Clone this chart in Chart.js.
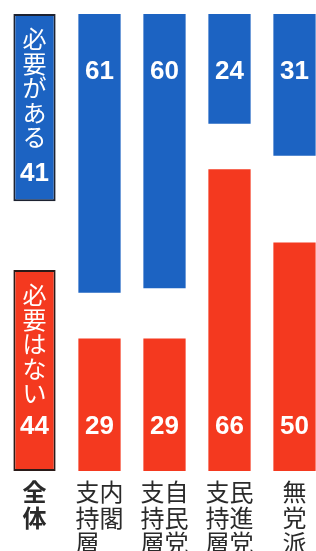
<!DOCTYPE html>
<html>
<head>
<meta charset="utf-8">
<script src="https://cdn.jsdelivr.net/npm/chart.js@4.4.0/dist/chart.umd.min.js"></script>
<style>
  html, body { margin: 0; padding: 0; background: #fff; overflow: hidden; }
  #wrap { width: 316px; height: 551px; overflow: hidden; position: relative; }
  canvas { position: absolute; left: 0; top: 0; }
</style>
</head>
<body>
<div id="wrap"><canvas id="chart" width="330" height="564"></canvas></div>
<script>
// categories, written as vertical columns (right column first)
const groups = [["全体"], ["内閣", "支持層"], ["自民党", "支持層"], ["民進党", "支持層"], ["無党派"]]
const needYes = [41, 61, 60, 24, 31]   // 必要がある
const needNo = [44, 29, 29, 66, 50]    // 必要はない
const seriesNames = ["必要がある", "必要はない"]
const total = 100

const blue = "#1c63c2"
const red = "#f4391f"

// vertical writing -> one row per character, columns read right to left
function toRows(cols) {
  const left = cols.slice().reverse()
  const n = Math.max(...cols.map(c => c.length))
  const rows = []
  for (let i = 0; i < n; i++) {
    rows.push(left.map(c => c[i] || "　").join(""))
  }
  return rows
}

const barText = {
  id: "barText",
  afterDatasetsDraw(chart) {
    const ctx = chart.ctx
    ctx.save()
    ctx.fillStyle = "#fff"
    ctx.textAlign = "center"
    ctx.textBaseline = "middle"
    chart.data.datasets.forEach((ds, di) => {
      const values = di === 0 ? needYes : needNo
      chart.getDatasetMeta(di).data.forEach((bar, i) => {
        const top = Math.min(bar.y, bar.base)
        const bottom = Math.max(bar.y, bar.base)
        let numY = di === 0 ? top + 58 : bottom - 44
        if (i === 0) {
          // overall column: series name written vertically inside the box
          ctx.font = "24px 'Noto Sans CJK JP', sans-serif"
          const chars = [...seriesNames[di]]
          chars.forEach((ch, k) => ctx.fillText(ch, bar.x, top + 25 + k * 24.5))
          if (di === 0) numY = top + 25 + (chars.length - 1) * 24.5 + 37
        }
        ctx.font = "bold 26px 'Liberation Sans', Arial, sans-serif"
        ctx.fillText(String(values[i]), bar.x, numY)
      })
    })
    ctx.restore()
  }
}

const chart = new Chart(document.getElementById("chart"), {
  type: "bar",
  data: {
    labels: groups.map(toRows),
    datasets: [
      {
        label: seriesNames[0],
        data: needYes.map(v => [total - v, total]),
        backgroundColor: blue,
        borderColor: "#1d2230",
        borderWidth: ctx => ctx.dataIndex === 0 ? 2 : 0,
        borderSkipped: false,
        grouped: false,
        categoryPercentage: 1,
        barPercentage: 0.65
      },
      {
        label: seriesNames[1],
        data: needNo,
        backgroundColor: red,
        borderColor: "#2a1a18",
        borderWidth: ctx => ctx.dataIndex === 0 ? 2 : 0,
        borderSkipped: false,
        grouped: false,
        categoryPercentage: 1,
        barPercentage: 0.65
      }
    ]
  },
  options: {
    responsive: false,
    animation: false,
    layout: { padding: { top: 14, left: 2, right: 3, bottom: 0 } },
    plugins: {
      legend: { display: false },
      tooltip: { enabled: false }
    },
    scales: {
      x: {
        grid: { display: false, drawTicks: false },
        border: { display: false },
        ticks: {
          color: "#2a2a2a",
          padding: 8,
          maxRotation: 0,
          autoSkip: false,
          font: ctx => ({
            family: "'Noto Sans CJK JP', sans-serif",
            size: 24,
            weight: ctx.index === 0 ? "bold" : "normal",
            lineHeight: 1.07
          })
        }
      },
      y: { display: false, min: 0, max: total }
    }
  },
  plugins: [barText]
})
</script>
</body>
</html>
